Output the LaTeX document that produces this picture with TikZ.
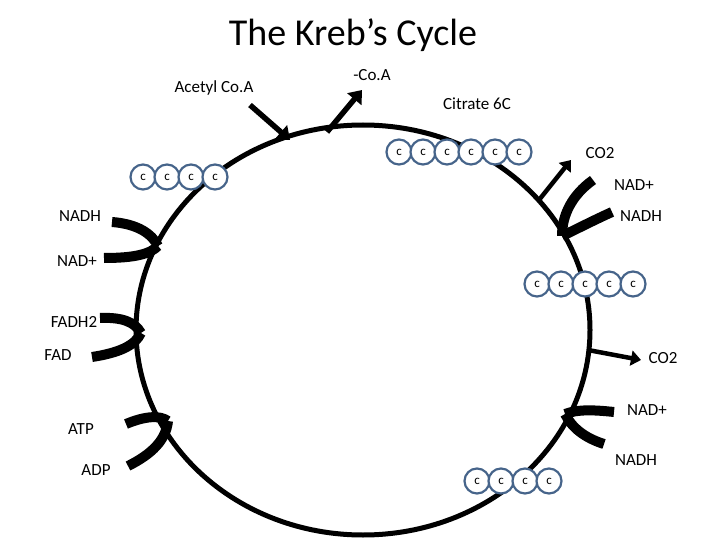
\documentclass[tikz,border=0pt]{standalone}
\usepackage{fontspec}
\setmainfont{Carlito}
\usetikzlibrary{arrows.meta}
\definecolor{cblue}{HTML}{46648A}
\begin{document}
\begin{tikzpicture}[x=1pt,y=-1pt,
  lbl/.style={font=\fontsize{17}{19}\selectfont,inner sep=0pt},
  carb/.style={circle,draw=cblue,line width=2.2pt,fill=white,minimum size=25pt,inner sep=0pt,font=\fontsize{13}{14}\selectfont},
  arr/.style={line width=5.5pt,-{Triangle[length=12pt,width=18pt]}},
  arrs/.style={line width=4.5pt,-{Triangle[length=10pt,width=15pt]}},
  band/.style={line width=10pt,line cap=butt}]
\useasboundingbox (0,0) rectangle (720,540);
\node[font=\fontsize{38}{42}\selectfont,inner sep=0pt] (title) at (353,35) {The Kreb’s Cycle};
\draw[line width=5pt] (363,330) ellipse [x radius=227, y radius=205];
% labels
\node[lbl] (acetyl) at (214,88) {Acetyl Co.A};
\node[lbl] (coa) at (372,75) {-Co.A};
\node[lbl] (citrate) at (477,104) {Citrate 6C};
\node[lbl] (co2a) at (600,153) {CO2};
\node[lbl] (nadpa) at (634,185) {NAD+};
\node[lbl] (nadha) at (641,216) {NADH};
\node[lbl] (nadhl) at (80,216) {NADH};
\node[lbl] (nadpl) at (77,261) {NAD+};
\node[lbl] (fadh) at (74,322) {FADH2};
\node[lbl] (fad) at (58,355) {FAD};
\node[lbl] (co2b) at (663,358) {CO2};
\node[lbl] (nadpb) at (647,410) {NAD+};
\node[lbl] (atp) at (81,429) {ATP};
\node[lbl] (adp) at (96,470) {ADP};
\node[lbl] (nadhb) at (636,460) {NADH};
% straight arrows
\coordinate (a1) at (250,105); \coordinate (a2) at (290,140);
\draw[arr] (a1) -- (a2);
\coordinate (b1) at (327,132); \coordinate (b2) at (362,90);
\draw[arr] (b1) -- (b2);
\coordinate (c1) at (539,200); \coordinate (c2) at (571,160);
\draw[arrs] (c1) -- (c2);
\coordinate (d1) at (588,350); \coordinate (d2) at (641,360);
\draw[arrs] (d1) -- (d2);
% curved bands
\coordinate (l1) at (158,246);
\draw[band] (112,222) .. controls (138,224) and (152,234) .. (l1);
\draw[band] (104,258) .. controls (135,258) and (150,254) .. (l1);
\coordinate (l2) at (141,333);
\draw[band] (100,318) .. controls (122,317) and (135,322) .. (l2);
\draw[band] (92,357) .. controls (118,353) and (135,346) .. (l2);
\coordinate (l3) at (168,421);
\draw[band] (126,424) .. controls (145,416) and (160,415) .. (l3);
\draw[band] (128,466) .. controls (152,454) and (166,440) .. (l3);
\coordinate (r1) at (562,236);
\draw[band] (593,180) .. controls (572,195) and (562,215) .. (r1);
\draw[band] (612,212) .. controls (590,222) and (575,230) .. (r1);
\coordinate (r2) at (565,414);
\draw[band] (614,412) .. controls (595,410) and (578,409) .. (r2);
\draw[band] (604,444) .. controls (585,438) and (572,428) .. (r2);
% carbon chains
\foreach \i in {0,...,5} \node[carb] (t\i) at (399+24*\i,152) {c};
\foreach \i in {0,...,3} \node[carb] (l\i) at (143+24*\i,177) {c};
\foreach \i in {0,...,4} \node[carb] (m\i) at (537+24*\i,284) {c};
\foreach \i in {0,...,3} \node[carb] (n\i) at (477+24*\i,481) {c};
\end{tikzpicture}
\end{document}
